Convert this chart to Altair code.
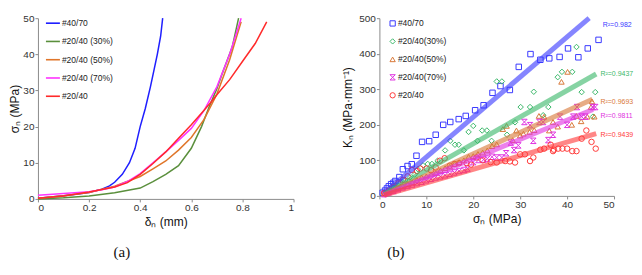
import altair as alt
import pandas as pd

# ---------------- Panel (a): stress vs. closure ----------------
series_a = ["#40/70", "#20/40 (30%)", "#20/40 (50%)", "#20/40 (70%)", "#20/40"]
colors_a = ["#1f1fff", "#5a8f3c", "#e0762a", "#ff33ff", "#ff2a2a"]

a_4070_x = [0, 0.05, 0.1, 0.15, 0.2, 0.25, 0.28, 0.30, 0.33, 0.358, 0.38, 0.40, 0.42, 0.44, 0.455, 0.467, 0.48, 0.488]
a_4070_y = [0.2, 0.5, 0.9, 1.3, 1.8, 2.7, 3.6, 4.6, 6.8, 10, 14, 20, 25, 31, 36, 40, 45, 50]
a_30_x = [0, 0.1, 0.2, 0.3, 0.4, 0.45, 0.5, 0.55, 0.6, 0.64, 0.67, 0.7, 0.72, 0.76, 0.785]
a_30_y = [0, 0.3, 0.8, 1.7, 3, 4.8, 6.8, 9.2, 14, 20, 25.5, 30.5, 34.5, 42, 50]
a_50_x = [0, 0.1, 0.2, 0.3, 0.4, 0.45, 0.5, 0.55, 0.6, 0.65, 0.7, 0.75, 0.795]
a_50_y = [0.2, 0.9, 1.8, 3.5, 6.2, 8.3, 10.5, 13.5, 17, 22, 29, 38.5, 49]
a_70_x = [0, 0.1, 0.2, 0.25, 0.3, 0.35, 0.4, 0.45, 0.5, 0.55, 0.6, 0.65, 0.7, 0.75, 0.795]
a_70_y = [1, 1.5, 2, 2.5, 3.3, 4.8, 7, 10, 13, 16.2, 19.5, 24.5, 31, 40, 50]
a_2040_x = [0, 0.1, 0.2, 0.25, 0.3, 0.35, 0.4, 0.45, 0.5, 0.55, 0.6, 0.65, 0.68, 0.7, 0.75, 0.8, 0.85, 0.895]
a_2040_y = [0.2, 0.8, 1.9, 2.6, 3.3, 4.5, 6.8, 9.8, 13, 16.8, 20.5, 24.5, 27, 28.8, 33, 38, 43, 49]

a_x_ticks = [0, 0.2, 0.4, 0.6, 0.8, 1]
a_y_ticks = [0, 10, 20, 30, 40, 50]

# ---------------- Panel (b): stiffness vs. stress ----------------
series_b = ["#40/70", "#20/40(30%)", "#20/40(50%)", "#20/40(70%)", "#20/40"]
colors_b = ["#3a3aff", "#3cb86a", "#d9793a", "#e033e0", "#ff3b3b"]
shapes_b = ["square", "diamond", "triangle-up", "M-1,-1L1,-1L-1,1L1,1Z", "circle"]

b_4070_x = [0.7, 1.2, 1.6, 2.0, 2.5, 3.0, 3.4, 4.25, 5, 6, 6.9, 7.9, 9.1, 10.6, 12, 13.6, 15.1, 16.9, 18.4, 20.4,
            22.2, 24.1, 25.8, 27.8, 29.7, 32.2, 34.3, 36.2, 38.4, 40.2, 42.4, 44.4, 46.7]
b_4070_y = [9, 15, 21, 27, 33, 37, 42, 53, 75, 84, 89, 113, 152, 154, 172, 200, 208, 216, 225, 241,
            255, 290, 309, 298, 363, 399, 383, 387, 391, 415, 390, 415, 439]
b_30_x = [1, 1.8, 2.6, 3.5, 4.5, 5.5, 6.5, 7.5, 8.2, 9.3, 10.3, 11.2, 12.4, 14, 15.1, 16.1, 16.9, 18, 19, 20,
          20.9, 21.9, 22.9, 23.9, 25, 26.1, 27.2, 28.9, 30.1, 32.1, 32.9, 34.9, 36, 38, 38.9, 41.1, 42, 43.1, 45.5, 46]
b_30_y = [8, 14, 22, 30, 38, 45, 52, 60, 75, 86, 90, 90, 99, 128, 155, 144, 144, 128, 180, 197,
          155, 184, 184, 155, 322, 322, 172, 207, 250, 250, 293, 227, 250, 334, 349, 349, 419, 292, 223, 292]
b_50_x = [1, 2, 3, 4, 5, 6, 7, 8, 9, 10, 11, 12, 13, 14, 15, 16, 17, 18, 19, 20, 21, 22, 23, 24, 25,
          26.3, 27.1, 28.4, 29.2, 30, 30.7, 32, 33, 34, 35.1, 36.2, 37, 38, 38.8, 40.1, 41, 42, 43, 44.3, 45.1, 45.3, 45.8]
b_50_y = [6, 12, 18, 22, 28, 34, 38, 45, 52, 55, 60, 64, 72, 78, 82, 90, 95, 100, 110, 112, 118, 122, 128, 140, 145,
          188, 197, 157, 184, 170, 175, 180, 185, 225, 223, 184, 208, 195, 321, 349, 200, 225, 210, 223, 250, 266, 223]
b_70_x = [1, 2, 3, 4, 5, 6, 7, 8, 9, 10, 11, 12, 13, 14, 15, 16, 17, 18.1, 18.8, 20, 21.1, 22.2, 23, 24, 25, 26.1,
          27, 28, 28.7, 29.6, 30.9, 32.1, 32.8, 34.1, 34.9, 36, 37, 38.5, 40, 41.3, 42.1, 43.1, 43.9, 45.5, 46]
b_70_y = [5, 10, 14, 19, 24, 28, 32, 36, 40, 44, 48, 52, 55, 58, 62, 66, 70, 73, 77, 95, 101, 102, 105, 110, 108, 108,
          120, 150, 129, 142, 208, 199, 155, 208, 208, 157, 172, 223, 200, 223, 250, 223, 223, 250, 250]
b_2040_x = [1, 2, 3, 4, 5, 6, 6.9, 8, 8.7, 10.1, 11, 12, 12.9, 13.9, 15, 16, 17, 18.6, 19.5, 20.7, 22, 23.7, 25,
            26.8, 27.8, 28.9, 30, 31, 32.1, 32.8, 34.3, 35.1, 36.5, 37, 37.2, 38.1, 39, 40, 41.1, 42, 43.1, 44.1, 45.2, 46.1]
b_2040_y = [8, 15, 25, 35, 45, 55, 73, 70, 77, 77, 72, 80, 99, 106, 85, 90, 92, 92, 88, 108, 100, 95, 94,
            98, 97, 94, 117, 117, 98, 108, 130, 133, 144, 126, 130, 133, 133, 133, 126, 126, 161, 184, 152, 133]

fit_x0 = [1, 1, 1, 1, 1]
fit_y0 = [8, 5, 3, 2, 2]
fit_x1 = [44.7, 46.2, 45.4, 45.5, 46.2]
fit_y1 = [500, 343, 272, 243, 175]

r2_text = ["R²=0.982", "R²=0.9437", "R²=0.9693", "R²=0.9811", "R²=0.9439"]
r2_x = [47.6, 47.1, 47.1, 47.1, 47.1]
r2_y = [481, 342, 265, 225, 170]

b_x_ticks = [0, 10, 20, 30, 40, 50]
b_y_ticks = [0, 100, 200, 300, 400, 500]

FONT = "Liberation Sans"

# ---------- build tables ----------
rows = []
for name, xs, ys in zip(series_a, [a_4070_x, a_30_x, a_50_x, a_70_x, a_2040_x],
                        [a_4070_y, a_30_y, a_50_y, a_70_y, a_2040_y]):
    for i, (x, y) in enumerate(zip(xs, ys)):
        rows.append({"curve": name, "d": x, "s": y, "i": i})
df_a = pd.DataFrame(rows)

rows = []
for name, xs, ys in zip(series_b, [b_4070_x, b_30_x, b_50_x, b_70_x, b_2040_x],
                        [b_4070_y, b_30_y, b_50_y, b_70_y, b_2040_y]):
    for x, y in zip(xs, ys):
        rows.append({"series": name, "s": x, "k": y})
df_b = pd.DataFrame(rows)

rows = []
for name, x0, y0, x1, y1 in zip(series_b, fit_x0, fit_y0, fit_x1, fit_y1):
    rows.append({"series": name, "s": x0, "k": y0, "i": 0})
    rows.append({"series": name, "s": x1, "k": y1, "i": 1})
df_fit = pd.DataFrame(rows)

df_r2 = pd.DataFrame({"series": series_b, "txt": r2_text, "s": r2_x, "k": r2_y})

# ---------- panel (a) ----------
chart_a = alt.Chart(df_a).mark_line(strokeWidth=1.5).encode(
    x=alt.X("d:Q", scale=alt.Scale(domain=[0, 1], nice=False),
            axis=alt.Axis(values=a_x_ticks, format="~g", title="δₙ (mm)", titlePadding=4)),
    y=alt.Y("s:Q", scale=alt.Scale(domain=[0, 50], nice=False),
            axis=alt.Axis(values=a_y_ticks, title="σₙ (MPa)", titlePadding=1)),
    color=alt.Color("curve:N", scale=alt.Scale(domain=series_a, range=colors_a),
                    legend=alt.Legend(title=None, orient="none", legendX=7, legendY=-3,
                                      symbolType="stroke", symbolSize=196, symbolStrokeWidth=1.6,
                                      labelFontSize=8.5, labelFont=FONT, labelColor="#222",
                                      rowPadding=5.3, padding=0, labelOffset=1)),
    order="i:Q",
).properties(width=256, height=181,
             title=alt.TitleParams("(a)", orient="bottom", anchor="middle", dx=-44, offset=17,
                                   font="Liberation Serif", fontSize=15, fontWeight="normal", color="#111"))

# ---------- panel (b) ----------
xb = alt.X("s:Q", scale=alt.Scale(domain=[0, 50], nice=False),
           axis=alt.Axis(values=b_x_ticks, title="σₙ (MPa)", titlePadding=4))
yb = alt.Y("k:Q", scale=alt.Scale(domain=[0, 500], nice=False),
           axis=alt.Axis(values=b_y_ticks, title="Kₙ (MPa·mm⁻¹)", titlePadding=4))
cb = alt.Color("series:N", scale=alt.Scale(domain=series_b, range=colors_b),
               legend=alt.Legend(title=None, orient="none", legendX=9, legendY=1,
                                 labelFontSize=8.5, labelFont=FONT, labelColor="#222",
                                 symbolSize=28, symbolStrokeWidth=1, rowPadding=8, padding=0,
                                 labelOffset=1))

pts = alt.Chart(df_b).mark_point(filled=False, size=30, strokeWidth=1, opacity=1).encode(
    x=xb, y=yb, color=cb,
    shape=alt.Shape("series:N", scale=alt.Scale(domain=series_b, range=shapes_b)),
)

fits = alt.Chart(df_fit).mark_line(strokeWidth=5, opacity=0.62, strokeCap="butt").encode(
    x=xb, y=yb, color=cb, order="i:Q",
)

r2_layers = [
    alt.Chart(df_r2).transform_filter(alt.datum.series == name).mark_text(
        align="left", baseline="middle", fontSize=7, font=FONT, color=col
    ).encode(x=xb, y=yb, text="txt:N")
    for name, col in zip(series_b, colors_b)
]

chart_b = alt.layer(pts, fits, *r2_layers).properties(
    width=235, height=178,
    title=alt.TitleParams("(b)", orient="bottom", anchor="middle", dx=-101, offset=20,
                          font="Liberation Serif", fontSize=15, fontWeight="normal", color="#111"))

chart = alt.hconcat(chart_a, chart_b, spacing=47).resolve_scale(
    color="independent", shape="independent"
).properties(
    padding={"left": 0, "top": 0, "right": 0, "bottom": 0}
).configure_view(stroke=None).configure_axis(
    grid=False, domainColor="#8c8c8c", tickColor="#8c8c8c", tickSize=3,
    labelFont=FONT, labelFontSize=10, labelColor="#333", labelPadding=1,
    titleFont=FONT, titleFontSize=12, titleFontWeight="normal", titleColor="#111",
)

chart.save("out.html", embed_options={"renderer": "svg", "actions": False})
